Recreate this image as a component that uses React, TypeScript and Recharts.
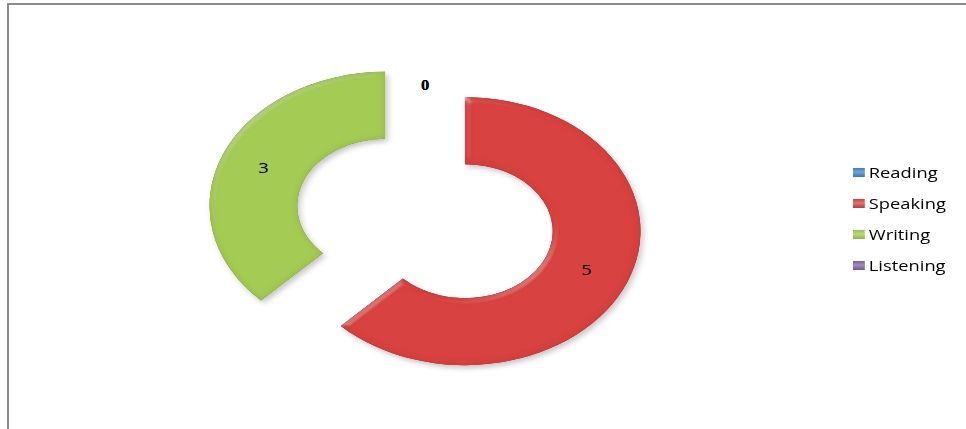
import { PieChart, Pie, Cell, Sector, Legend } from 'recharts';

const categories = ['Reading', 'Speaking', 'Writing', 'Listening'];
const values = [0, 5, 3, 0];
const colors = ['#3F86CC', '#D84341', '#A4CB52', '#8064A2'];

const data = categories.map((name, i) => ({ name, value: values[i] }));

// the original picture is stretched sideways, so every slice is drawn as an ellipse
const SX = 1.31;
const EXPLODE = 33;
const RAD = Math.PI / 180;
const FONT = '"Open Sans", "DejaVu Sans", sans-serif';

function offsetCenter(cx: number, cy: number, midAngle: number) {
  return {
    x: cx + Math.cos(-midAngle * RAD) * EXPLODE * SX,
    y: cy + Math.sin(-midAngle * RAD) * EXPLODE,
  };
}

function Slice(props: any) {
  const { cx, cy, innerRadius, outerRadius, startAngle, endAngle, midAngle, fill } = props;
  if (Math.abs(endAngle - startAngle) < 0.01) return <g />;
  const c = offsetCenter(cx, cy, midAngle);
  return (
    <g transform={`translate(${c.x},${c.y}) scale(${SX},1)`}>
      <Sector
        cx={0}
        cy={0}
        innerRadius={innerRadius}
        outerRadius={outerRadius}
        startAngle={startAngle}
        endAngle={endAngle}
        fill={fill}
        filter="url(#bevel)"
      />
    </g>
  );
}

function SliceLabel(props: any) {
  const { cx, cy, innerRadius, outerRadius, midAngle, value } = props;
  const c = offsetCenter(cx, cy, midAngle);
  const r = (innerRadius + outerRadius) / 2;
  const x = c.x + Math.cos(-midAngle * RAD) * r * SX;
  const y = c.y + Math.sin(-midAngle * RAD) * r;
  const zero = value === 0;
  return (
    <text
      transform={`translate(${x},${y}) scale(${zero ? 1.1 : SX},1)`}
      textAnchor="middle"
      dominantBaseline="central"
      fontFamily={zero ? '"Liberation Serif", serif' : FONT}
      fontWeight={zero ? 'bold' : 'normal'}
      fontSize={zero ? 15 : 14}
      fill="#000"
    >
      {value}
    </text>
  );
}

// legend built from the series arrays so it keeps the original order
function LegendBox() {
  return (
    <div style={{ fontFamily: FONT, fontSize: 14, color: '#000' }}>
      {categories.map((name, i) => (
        <div
          key={name}
          style={{
            height: 31,
            display: 'flex',
            alignItems: 'center',
            transform: `scaleX(${SX})`,
            transformOrigin: 'left center',
            whiteSpace: 'nowrap',
          }}
        >
          <span
            style={{
              display: 'inline-block',
              width: 9,
              height: 9,
              marginRight: 3,
              backgroundColor: colors[i],
              backgroundImage: 'linear-gradient(to bottom, rgba(0,0,0,0.05) 0%, rgba(255,255,255,0.25) 45%, rgba(0,0,0,0.12) 100%)',
            }}
          />
          <span>{name}</span>
        </div>
      ))}
    </div>
  );
}

export default function App() {
  return (
    <div
      style={{
        position: 'absolute',
        left: 0,
        top: 0,
        width: 966,
        height: 429,
        overflow: 'hidden',
        background: '#fff',
      }}
    >
      <svg width={0} height={0} style={{ position: 'absolute' }}>
        <defs>
          <filter id="bevel" x="-10%" y="-10%" width="125%" height="125%">
            <feGaussianBlur in="SourceAlpha" stdDeviation="3" result="blur" />
            <feComposite in="SourceAlpha" in2="blur" operator="arithmetic" k2="1" k3="-1" result="edge" />
            <feFlood floodColor="#000" floodOpacity="0.22" />
            <feComposite in2="edge" operator="in" result="darkEdge" />
            <feSpecularLighting in="blur" surfaceScale="4" specularConstant="0.9" specularExponent="20" lightingColor="#ffffff" result="spec">
              <feDistantLight azimuth="235" elevation="35" />
            </feSpecularLighting>
            <feComposite in="spec" in2="edge" operator="in" result="specIn" />
            <feDropShadow in="SourceAlpha" dx="2" dy="3" stdDeviation="2.5" floodColor="#000" floodOpacity="0.22" result="shadow" />
            <feMerge>
              <feMergeNode in="shadow" />
              <feMergeNode in="SourceGraphic" />
              <feMergeNode in="darkEdge" />
              <feMergeNode in="specIn" />
            </feMerge>
          </filter>
        </defs>
      </svg>
      <div
        style={{
          position: 'absolute',
          left: 7,
          top: 3,
          width: 1000,
          height: 500,
          borderTop: '2px solid #8c8c8c',
          borderLeft: '2px solid #8c8c8c',
        }}
      />
      <div style={{ position: 'absolute', left: 0, top: 0 }}>
        <PieChart width={966} height={429} margin={{ top: 0, right: 0, bottom: 0, left: 0 }}>
          <Pie
            data={data}
            dataKey="value"
            nameKey="name"
            cx={425}
            cy={218.5}
            innerRadius={67}
            outerRadius={134}
            startAngle={90}
            endAngle={-270}
            stroke="none"
            shape={Slice}
            activeShape={Slice}
            inactiveShape={Slice}
            label={SliceLabel}
            labelLine={false}
            isAnimationActive={false}
          >
            {data.map((d, i) => (
              <Cell key={d.name} fill={colors[i]} />
            ))}
          </Pie>
          <Legend
            layout="vertical"
            align="right"
            verticalAlign="middle"
            content={LegendBox}
            wrapperStyle={{ left: 853, top: 157, right: 'auto', width: 110 }}
          />
        </PieChart>
      </div>
    </div>
  );
}
